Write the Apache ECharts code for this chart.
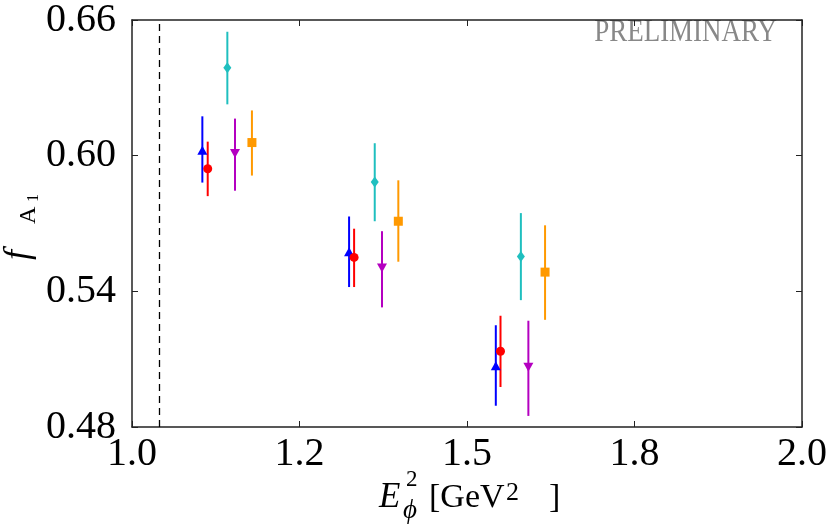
<!DOCTYPE html>
<html>
<head>
<meta charset="utf-8">
<script src="https://cdn.jsdelivr.net/npm/echarts@6/dist/echarts.min.js"></script>
<style>
    html, body { margin: 0; padding: 0; background: #fff; }
    #chart { width: 830px; height: 530px; }
</style>
</head>
<body>
<div id="chart"></div>
<script>
    // axis ticks
    var xTicks = [1.0, 1.25, 1.5, 1.75, 2.0];
    var xTickLabels = ['1.0', '1.2', '1.5', '1.8', '2.0'];
    var threshold = 1.0385; // m_phi^2

    // blue, up-triangle
    var xTriUp = [1.105, 1.324, 1.543];
    var yTriUp = [0.6024, 0.5575, 0.5071];
    var loTriUp = [0.5881, 0.5419, 0.4894];
    var hiTriUp = [0.6174, 0.5731, 0.5250];

    // red, circle
    var xCircle = [1.113, 1.3315, 1.550];
    var yCircle = [0.5942, 0.5550, 0.5135];
    var loCircle = [0.5821, 0.5419, 0.4977];
    var hiCircle = [0.6062, 0.5677, 0.5292];

    // cyan, diamond
    var xDiamond = [1.1423, 1.3623, 1.5804];
    var yDiamond = [0.6389, 0.5884, 0.5554];
    var loDiamond = [0.6227, 0.5710, 0.5361];
    var hiDiamond = [0.6548, 0.6055, 0.5746];

    // magenta, down-triangle
    var xTriDown = [1.1537, 1.3731, 1.5916];
    var yTriDown = [0.6010, 0.5503, 0.5064];
    var loTriDown = [0.5845, 0.5329, 0.4849];
    var hiTriDown = [0.6164, 0.5666, 0.5270];

    // orange, square
    var xSquare = [1.179, 1.3975, 1.6165];
    var ySquare = [0.6058, 0.5710, 0.5485];
    var loSquare = [0.5912, 0.5531, 0.5274];
    var hiSquare = [0.6200, 0.5891, 0.5692];

    var serif = '"Liberation Serif", "DejaVu Serif", serif';
    var axisColor = '#222';

    function errBars(xs, lo, hi, color) {
        var d = xs.map(function (x, i) { return [x, lo[i], hi[i]]; });
        return {
            type: 'custom',
            data: d,
            z: 2,
            renderItem: function (params, api) {
                var p1 = api.coord([api.value(0), api.value(1)]);
                var p2 = api.coord([api.value(0), api.value(2)]);
                return {
                    type: 'line',
                    shape: { x1: p1[0], y1: p1[1], x2: p2[0], y2: p2[1] },
                    style: { stroke: color, lineWidth: 2 }
                };
            }
        };
    }

    function points(xs, ys, color, symbol, size, rot) {
        return {
            type: 'scatter',
            data: xs.map(function (x, i) { return [x, ys[i]]; }),
            symbol: symbol,
            symbolSize: size,
            symbolRotate: rot || 0,
            itemStyle: { color: color, opacity: 1 },
            z: 3
        };
    }

    function txt(x, y, s, font) {
        return { type: 'text', style: { x: x, y: y, text: s, font: font, fill: '#000', verticalAlign: 'middle' } };
    }

    var chart = echarts.init(document.getElementById('chart'), null, { renderer: 'canvas' });

    var axisCommon = {
        type: 'value',
        axisLine: { show: true, onZero: false, lineStyle: { color: axisColor, width: 1.5 } },
        axisTick: { show: true, inside: true, length: 6, lineStyle: { color: axisColor, width: 1 } },
        splitLine: { show: false }
    };

    var option = {
        animation: false,
        grid: { left: 132, top: 14, width: 673, height: 413 },
        xAxis: [
            Object.assign({}, axisCommon, {
                position: 'bottom', min: 1, max: 2, interval: 0.25,
                axisLabel: {
                    fontFamily: serif, fontSize: 40, color: '#000', margin: 7,
                    formatter: function (v) {
                        var i = xTicks.indexOf(v);
                        return i >= 0 ? xTickLabels[i] : v.toFixed(1);
                    }
                }
            }),
            Object.assign({}, axisCommon, {
                position: 'top', min: 1, max: 2, interval: 0.25,
                axisLabel: { show: false }
            })
        ],
        yAxis: [
            Object.assign({}, axisCommon, {
                position: 'left', min: 0.48, max: 0.66, interval: 0.06,
                axisLabel: {
                    fontFamily: serif, fontSize: 40, color: '#000', margin: 16,
                    formatter: function (v) { return v.toFixed(2); }
                }
            }),
            Object.assign({}, axisCommon, {
                position: 'right', min: 0.48, max: 0.66, interval: 0.06,
                axisLabel: { show: false }
            })
        ],
        series: [
            {
                type: 'line',
                data: [],
                markLine: {
                    silent: true,
                    symbol: 'none',
                    label: { show: false },
                    lineStyle: { color: '#000', type: [7, 5], width: 1.3 },
                    data: [{ xAxis: threshold }]
                }
            },
            errBars(xTriUp, loTriUp, hiTriUp, '#0000ff'),
            points(xTriUp, yTriUp, '#0000ff', 'triangle', [10, 9]),
            errBars(xCircle, loCircle, hiCircle, '#ff0000'),
            points(xCircle, yCircle, '#ff0000', 'circle', 9),
            errBars(xDiamond, loDiamond, hiDiamond, '#1fbfbf'),
            points(xDiamond, yDiamond, '#1fbfbf', 'diamond', [8, 11]),
            errBars(xTriDown, loTriDown, hiTriDown, '#b400c0'),
            points(xTriDown, yTriDown, '#b400c0', 'triangle', [10, 9], 180),
            errBars(xSquare, loSquare, hiSquare, '#ff9900'),
            points(xSquare, ySquare, '#ff9900', 'rect', 9)
        ],
        graphic: [
            // watermark
            {
                type: 'text', x: 777, y: 33, scaleX: 0.87, silent: true,
                style: { text: 'PRELIMINARY', font: '31px ' + serif, fill: '#888', align: 'right', verticalAlign: 'middle' }
            },
            // x axis title  E_phi^2 [GeV^2 ]
            {
                type: 'group', silent: true,
                children: [
                    txt(379, 498, 'E', 'italic 35px ' + serif),
                    txt(406, 480, '2', '23px ' + serif),
                    txt(403, 511, 'ϕ', 'italic 27px ' + serif),
                    txt(429, 498, '[GeV', '34px ' + serif),
                    txt(506, 493, '2', '26px ' + serif),
                    txt(549, 498, ']', '34px ' + serif)
                ]
            },
            // y axis title  f_{A_1}
            {
                type: 'group', silent: true, x: 0, y: 268, rotation: Math.PI / 2,
                children: [
                    txt(8, 19, 'f', 'italic 36px ' + serif),
                    txt(44, 29, 'A', '24px ' + serif),
                    txt(66, 34, '1', '16px ' + serif)
                ]
            }
        ]
    };

    chart.setOption(option);

    window.onresize = function () {
        chart.resize();
    };
</script>
</body>
</html>
